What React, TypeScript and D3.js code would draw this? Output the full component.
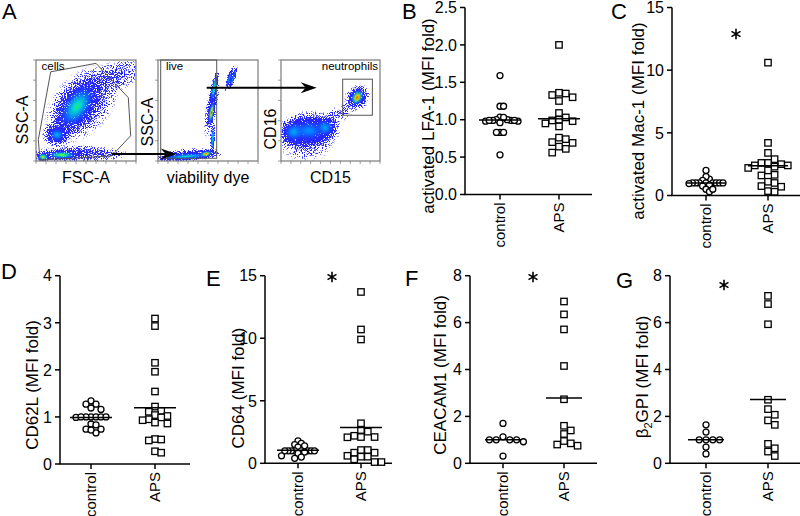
import React from 'react';
import * as d3 from 'd3';

const FONT = '"Liberation Sans", Arial, Helvetica, sans-serif';

// ---------------- data ----------------
const categories = ['control', 'APS'];

const lfaControl = [1.59, 1.18, 1.18, 1.035, 1.0, 0.99, 0.99, 0.98, 0.96, 0.98, 0.99, 0.99, 1.0, 1.03, 0.83, 0.83, 0.83, 0.53];
const lfaAPS = [2.0, 1.36, 1.35, 1.33, 1.3, 1.25, 1.09, 1.03, 1.0, 0.99, 0.98, 0.95, 0.91, 0.76, 0.74, 0.7, 0.69, 0.64, 0.61, 0.56];

const macControl = [2.0, 1.3, 1.5, 1.2, 1.0, 1.0, 1.0, 1.0, 1.0, 1.0, 1.0, 1.0, 0.85, 0.75, 0.5, 0.3, 0.5, 0.95];
const macAPS = [10.6, 4.2, 3.4, 2.9, 2.6, 2.6, 2.5, 2.4, 2.4, 2.3, 2.2, 2.0, 1.65, 1.6, 1.1, 1.0, 0.75, 0.7, 0.35, 0.3];

const cd62lControl = [1.34, 1.27, 1.27, 1.19, 1.16, 1.0, 1.0, 1.0, 1.0, 0.99, 1.0, 1.0, 0.85, 0.83, 0.74, 0.74, 0.66, 0.72];
const cd62lAPS = [3.09, 2.93, 2.15, 1.96, 1.54, 1.22, 1.13, 1.11, 1.04, 1.02, 0.99, 0.95, 0.93, 0.88, 0.86, 0.53, 0.52, 0.5, 0.27, 0.24];

const cd64Control = [1.8, 1.6, 1.5, 1.4, 1.3, 1.0, 1.0, 1.0, 1.0, 1.0, 1.0, 1.0, 1.0, 0.9, 0.8, 0.6, 0.5, 0.4];
const cd64APS = [13.7, 10.7, 9.9, 3.2, 2.66, 2.53, 2.2, 2.1, 2.1, 2.08, 1.06, 1.06, 0.85, 0.85, 0.6, 0.53, 0.53, 0.32, 0.1, 0.1];

const ceacamControl = [1.7, 1.13, 1.0, 1.0, 0.92, 1.0, 1.0, 0.31];
const ceacamAPS = [6.9, 6.35, 5.71, 4.15, 2.73, 1.6, 1.4, 1.25, 0.95, 0.85, 0.75, 0.8];

const b2gpiControl = [1.64, 1.33, 1.0, 1.0, 1.0, 1.0, 0.69, 0.4];
const b2gpiAPS = [7.14, 6.79, 5.93, 2.71, 2.31, 2.07, 1.83, 1.64, 0.83, 0.64, 0.5, 0.31];

const ticksB = [0, 0.5, 1, 1.5, 2, 2.5];
const ticks15 = [0, 5, 10, 15];
const ticks4 = [0, 1, 2, 3, 4];
const ticks8 = [0, 2, 4, 6, 8];

// flow cytometry density populations (axis units 0..100)
const fscBlobs = [
  { x: 41, y: 54, rx: 25, ry: 14, angle: 55, peak: 0.6 },
  { x: 21, y: 26, rx: 8, ry: 7, angle: 0, peak: 0.38 },
  { x: 26, y: 6, rx: 15, ry: 4, angle: 0, peak: 0.75 },
  { x: 7, y: 4, rx: 6, ry: 4, angle: 0, peak: 0.8 },
];
const fscHalos = [
  { x: 46, y: 56, rx: 48, ry: 30, angle: 48, level: 0.75 },
  { x: 80, y: 84, rx: 30, ry: 16, angle: 20, level: 0.55 },
  { x: 42, y: 7, rx: 52, ry: 9, angle: 0, level: 0.85 },
  { x: 21, y: 26, rx: 16, ry: 13, angle: 0, level: 0.9 },
];
const viaBlobs = [
  { x: 53.5, y: 48, rx: 12, ry: 2.8, angle: 80, peak: 1.0 },
  { x: 56, y: 72, rx: 14, ry: 2.6, angle: 80, peak: 0.6 },
  { x: 54.5, y: 22, rx: 13, ry: 2, angle: 88, peak: 0.45 },
  { x: 28, y: 4.5, rx: 25, ry: 3, angle: 4, peak: 0.5 },
  { x: 48, y: 7, rx: 7, ry: 3.2, angle: 12, peak: 1.0 },
  { x: 71, y: 81, rx: 10, ry: 1.4, angle: 72, peak: 0.35 },
  { x: 75, y: 82, rx: 10, ry: 1.4, angle: 72, peak: 0.35 },
];
const viaHalos = [
  { x: 54, y: 55, rx: 34, ry: 6, angle: 80, level: 0.85 },
  { x: 30, y: 6, rx: 36, ry: 7, angle: 4, level: 0.85 },
  { x: 73, y: 82, rx: 13, ry: 5, angle: 72, level: 0.7 },
];
const cd15Blobs = [
  { x: 77, y: 63, rx: 9, ry: 6.5, angle: 60, peak: 1.0 },
  { x: 14, y: 29, rx: 12, ry: 10, angle: 10, peak: 0.4 },
  { x: 44, y: 33, rx: 10, ry: 9, angle: 0, peak: 0.36 },
  { x: 28, y: 30, rx: 18, ry: 11, angle: 0, peak: 0.3 },
];
const cd15Halos = [
  { x: 28, y: 30, rx: 34, ry: 21, angle: 5, level: 0.95 },
  { x: 77, y: 63, rx: 15, ry: 13, angle: 60, level: 0.8 },
  { x: 58, y: 46, rx: 26, ry: 9, angle: 35, level: 0.45 },
  { x: 25, y: 20, rx: 30, ry: 22, angle: 0, level: 0.5 },
];
const cellsGate = [[14.7, 88.3], [60, 96.7], [92.3, 62.7], [94.7, 25], [75.7, 5], [4, 1], [2.3, 21]];
const liveGate = [[2.7, 2.7], [58.7, 100]];
const neutroGate = [[62.3, 45.3], [92.3, 81]];

// ---------------- layout ----------------
const panels = [
  { letter: 'B', title: 'activated LFA-1 (MFI fold)', control: lfaControl, aps: lfaAPS, ticks: ticksB, fmt: '.1f',
    x0: 465, x1: 592, yTop: 7.5, yBot: 194.5, cx: [500, 559], tX: 428, tY: 116, lX: 402, lY: 19, star: null, cs: 3.6, as: 6.8, mw: 21 },
  { letter: 'C', title: 'activated Mac-1 (MFI fold)', control: macControl, aps: macAPS, ticks: ticks15, fmt: 'd',
    x0: 672, x1: 800, yTop: 7.5, yBot: 195.5, cx: [706, 768], tX: 638, tY: 121, lX: 611, lY: 19, star: [736, 34], cs: 3.4, as: 6.6, mw: 20 },
  { letter: 'D', title: 'CD62L (MFI fold)', control: cd62lControl, aps: cd62lAPS, ticks: ticks4, fmt: 'd',
    x0: 60, x1: 190, yTop: 275.7, yBot: 464, cx: [91, 155], tX: 32, tY: 385, lX: 1, lY: 279, star: null, cs: 5, as: 6.2, mw: 21 },
  { letter: 'E', title: 'CD64 (MFI fold)', control: cd64Control, aps: cd64APS, ticks: ticks15, fmt: 'd',
    x0: 265, x1: 392, yTop: 275.7, yBot: 463.3, cx: [298, 361], tX: 238, tY: 388, lX: 206, lY: 286, star: [332, 277], cs: 3.3, as: 6.8, mw: 21 },
  { letter: 'F', title: 'CEACAM1 (MFI fold)', control: ceacamControl, aps: ceacamAPS, ticks: ticks8, fmt: 'd',
    x0: 470, x1: 597, yTop: 275.7, yBot: 463.3, cx: [503, 564], tX: 440, tY: 375, lX: 405, lY: 286, star: [533, 277], cs: 6.8, as: 6.8, mw: 18 },
  { letter: 'G', title: 'β2GPI (MFI fold)', control: b2gpiControl, aps: b2gpiAPS, ticks: ticks8, fmt: 'd',
    x0: 670, x1: 800, yTop: 275.7, yBot: 463.3, cx: [706, 768], tX: 642, tY: 377, lX: 616, lY: 288, star: [724, 285], cs: 6.8, as: 6.8, mw: 18 },
];

const flowLayout = [
  { box: [36, 60, 136, 161], blobs: fscBlobs, halos: fscHalos, xLabel: 'FSC-A', yLabel: 'SSC-A', yLabX: 22, yLabY: 120 },
  { box: [158, 60, 258, 161], blobs: viaBlobs, halos: viaHalos, xLabel: 'viability dye', yLabel: 'SSC-A', yLabX: 147, yLabY: 122 },
  { box: [281, 60, 380, 161], blobs: cd15Blobs, halos: cd15Halos, xLabel: 'CD15', yLabel: 'CD16', yLabX: 270, yLabY: 129 },
];

const densityColor = d3.scaleLinear<string>()
  .domain([0, 0.3, 0.5, 0.65, 0.8, 1])
  .range(['#2020ff', '#0090ff', '#00d8d0', '#30f060', '#f0f000', '#ff2000']);

function swarm(values: number[], y: (v: number) => number, sx: number, sy: number): number[] {
  const order = d3.range(values.length).sort((a, b) => values[b] - values[a]);
  const placed: { o: number; y: number }[] = [];
  const offs = new Array(values.length).fill(0);
  for (const i of order) {
    const py = y(values[i]);
    for (let k = 0; k < 80; k++) {
      const step = k === 0 ? 0 : (k % 2 === 1 ? Math.ceil(k / 2) : -Math.ceil(k / 2));
      const o = step * sx;
      if (!placed.some(p => Math.abs(p.o - o) < sx * 0.999 && Math.abs(p.y - py) < sy)) {
        placed.push({ o, y: py });
        offs[i] = o;
        break;
      }
    }
  }
  return offs;
}

function ScatterPanel({ p }: { p: any }) {
  const y = d3.scaleLinear().domain([0, p.ticks[p.ticks.length - 1]]).range([p.yBot, p.yTop]);
  const x = d3.scalePoint<string>().domain(categories).range(p.cx).padding(0);
  const fmt = d3.format(p.fmt);
  const series = [
    { cat: 'control', vals: p.control, sx: p.cs, sy: 5.5, shape: 'circle' },
    { cat: 'APS', vals: p.aps, sx: p.as, sy: 6.5, shape: 'square' },
  ];
  const starPath = d3.symbol(d3.symbolAsterisk, 75)();
  return (
    <g>
      <text x={p.lX} y={p.lY} fontSize={22}>{p.letter}</text>
      <line x1={p.x0} x2={p.x0} y1={p.yTop} y2={p.yBot} stroke="#000" strokeWidth={1.5} />
      {p.ticks.map((t: number) => (
        <g key={t}>
          <line x1={p.x0 - 5} x2={p.x0} y1={y(t)} y2={y(t)} stroke="#000" strokeWidth={1.5} />
          <text x={p.x0 - 8} y={y(t)} dy="0.36em" textAnchor="end" fontSize={16}>{fmt(t)}</text>
        </g>
      ))}
      <line x1={p.x0 - 0.75} x2={p.x1} y1={p.yBot} y2={p.yBot} stroke="#000" strokeWidth={1.5} />
      {categories.map(c => (
        <g key={c}>
          <line x1={x(c)} x2={x(c)} y1={p.yBot} y2={p.yBot + 5} stroke="#000" strokeWidth={1.5} />
          <text transform={`translate(${x(c)},${p.yBot + 8}) rotate(-90)`} dy="0.36em" textAnchor="end" fontSize={15}>{c}</text>
        </g>
      ))}
      <text transform={`translate(${p.tX},${p.tY}) rotate(-90)`} dy="0.36em" textAnchor="middle" fontSize={17}>
        {p.letter === 'G' ? (
          <>
            <tspan>β</tspan>
            <tspan fontSize={11} dy={4}>2</tspan>
            <tspan dy={-4}>GPI (MFI fold)</tspan>
          </>
        ) : p.title}
      </text>
      {series.map(s => {
        const offs = swarm(s.vals, y, s.sx, s.sy);
        const cx = x(s.cat)!;
        const mean = d3.mean(s.vals)!;
        return (
          <g key={s.cat}>
            {s.vals.map((v: number, i: number) =>
              s.shape === 'circle' ? (
                <circle key={i} cx={cx + offs[i]} cy={y(v)} r={3} fill="#fff" stroke="#000" strokeWidth={1.3} />
              ) : (
                <rect key={i} x={cx + offs[i] - 3.2} y={y(v) - 3.2} width={6.4} height={6.4} fill="#fff" stroke="#000" strokeWidth={1.3} />
              )
            )}
            <line x1={cx - p.mw} x2={cx + p.mw} y1={y(mean)} y2={y(mean)} stroke="#000" strokeWidth={1.5} />
          </g>
        );
      })}
      {p.star && (
        <path d={starPath as string} transform={`translate(${p.star[0]},${p.star[1]})`} stroke="#000" strokeWidth={1.6} fill="none" />
      )}
    </g>
  );
}

function FlowPlot({ f, idx }: { f: any; idx: number }) {
  const [bx0, by0, bx1, by1] = f.box;
  const sx = d3.scaleLinear().domain([0, 100]).range([bx0, bx1]);
  const sy = d3.scaleLinear().domain([0, 100]).range([by1, by0]);
  const kx = (bx1 - bx0) / 100;
  const clipId = `clip-${idx}`;
  const ellipse = (b: any, fill: string, op: number, key: string, scale = 1) => (
    <ellipse key={key} cx={0} cy={0} rx={b.rx * kx * scale} ry={b.ry * kx * scale} fill={fill} fillOpacity={op}
      transform={`translate(${sx(b.x)},${sy(b.y)}) rotate(${-b.angle})`} />
  );
  return (
    <g>
      <defs>
        <clipPath id={clipId}><rect x={bx0} y={by0} width={bx1 - bx0} height={by1 - by0} /></clipPath>
        {f.blobs.map((b: any, i: number) => {
          const offsets = [0, 0.2, 0.4, 0.6, 0.8, 1];
          return (
            <radialGradient key={i} id={`core-${idx}-${i}`}>
              {offsets.map(o => (
                <stop key={o} offset={o} stopColor={densityColor(b.peak * (1 - 0.75 * o))}
                  stopOpacity={o < 0.3 ? 1 : Math.max(0, 1 - (o - 0.3) / 0.6)} />
              ))}
            </radialGradient>
          );
        })}
      </defs>
      <g clipPath={`url(#${clipId})`}>
        <g filter="url(#speckle)">
          {f.halos.map((h: any, i: number) => ellipse(h, 'url(#haloGrad)', h.level, `h${i}`))}
          {f.blobs.map((b: any, i: number) => ellipse(b, 'url(#haloGrad)', 1, `hb${i}`, 1.5))}
        </g>
        {f.blobs.map((b: any, i: number) => ellipse(b, `url(#core-${idx}-${i})`, 1, `b${i}`))}
      </g>
      {sy.ticks(5).map(t => (
        <line key={`ly${t}`} x1={bx0 - 3} x2={bx0} y1={sy(t)} y2={sy(t)} stroke="#888" strokeWidth={0.8} />
      ))}
      {sx.ticks(10).map(t => (
        <line key={`lx${t}`} x1={sx(t)} x2={sx(t)} y1={by1} y2={by1 + 3} stroke="#888" strokeWidth={0.8} />
      ))}
      <rect x={bx0} y={by0} width={bx1 - bx0} height={by1 - by0} fill="none" stroke="#7a7a7a" strokeWidth={1.2} />
      <text x={(bx0 + bx1) / 2} y={183} textAnchor="middle" fontSize={16}>{f.xLabel}</text>
      <text transform={`translate(${f.yLabX},${f.yLabY}) rotate(-90)`} dy="0.36em" textAnchor="middle" fontSize={16}>{f.yLabel}</text>
      {idx === 0 && (
        <>
          <path d={d3.line()(cellsGate.map(([a, b]) => [sx(a), sy(b)] as [number, number])) + 'Z'} fill="none" stroke="#555" strokeWidth={1} />
          <text x={41.5} y={70} fontSize={11.5}>cells</text>
        </>
      )}
      {idx === 1 && (
        <>
          <rect x={sx(liveGate[0][0])} y={sy(liveGate[1][1])} width={sx(liveGate[1][0]) - sx(liveGate[0][0])}
            height={sy(liveGate[0][1]) - sy(liveGate[1][1])} fill="none" stroke="#555" strokeWidth={1} />
          <text x={166} y={70} fontSize={11.5}>live</text>
        </>
      )}
      {idx === 2 && (
        <>
          <rect x={sx(neutroGate[0][0])} y={sy(neutroGate[1][1])} width={sx(neutroGate[1][0]) - sx(neutroGate[0][0])}
            height={sy(neutroGate[0][1]) - sy(neutroGate[1][1])} fill="none" stroke="#555" strokeWidth={1} />
          <text x={378} y={70} textAnchor="end" fontSize={11.5}>neutrophils</text>
        </>
      )}
    </g>
  );
}

function Arrow({ x1, x2, y }: { x1: number; x2: number; y: number }) {
  return (
    <g>
      <line x1={x1} x2={x2 - 10} y1={y} y2={y} stroke="#000" strokeWidth={2} />
      <path d={`M${x2},${y} L${x2 - 16},${y - 5.5} L${x2 - 11},${y} L${x2 - 16},${y + 5.5} Z`} fill="#000" />
    </g>
  );
}

export default function App() {
  return (
    <svg width={800} height={516} style={{ position: 'absolute', left: 0, top: 0 }} fontFamily={FONT}>
      <rect width={800} height={516} fill="#fff" />
      <defs>
        <radialGradient id="haloGrad">
          <stop offset={0} stopColor="#1a1aff" stopOpacity={1} />
          <stop offset={0.5} stopColor="#1a1aff" stopOpacity={0.6} />
          <stop offset={1} stopColor="#1a1aff" stopOpacity={0} />
        </radialGradient>
        <filter id="speckle" filterUnits="userSpaceOnUse" x={0} y={0} width={800} height={516} colorInterpolationFilters="sRGB">
          <feTurbulence type="fractalNoise" baseFrequency={0.9} numOctaves={1} seed={11} result="noise" />
          <feColorMatrix in="noise" type="matrix" values="0 0 0 0 0  0 0 0 0 0  0 0 0 0 0  2.6 0 0 0 -0.95" result="na" />
          <feComposite in="SourceAlpha" in2="na" operator="arithmetic" k1={0} k2={1} k3={-1} k4={0} result="diff" />
          <feComponentTransfer in="diff" result="mask">
            <feFuncA type="linear" slope={6} intercept={0} />
          </feComponentTransfer>
          <feFlood floodColor="#2626ff" result="flood" />
          <feComposite in="flood" in2="mask" operator="in" />
        </filter>
      </defs>
      <text x={2} y={19} fontSize={22}>A</text>
      {flowLayout.map((f, i) => <FlowPlot key={i} f={f} idx={i} />)}
      <Arrow x1={111.7} x2={176.7} y={154} />
      <Arrow x1={206.7} x2={316.7} y={87.7} />
      {panels.map(p => <ScatterPanel key={p.letter} p={p} />)}
    </svg>
  );
}
